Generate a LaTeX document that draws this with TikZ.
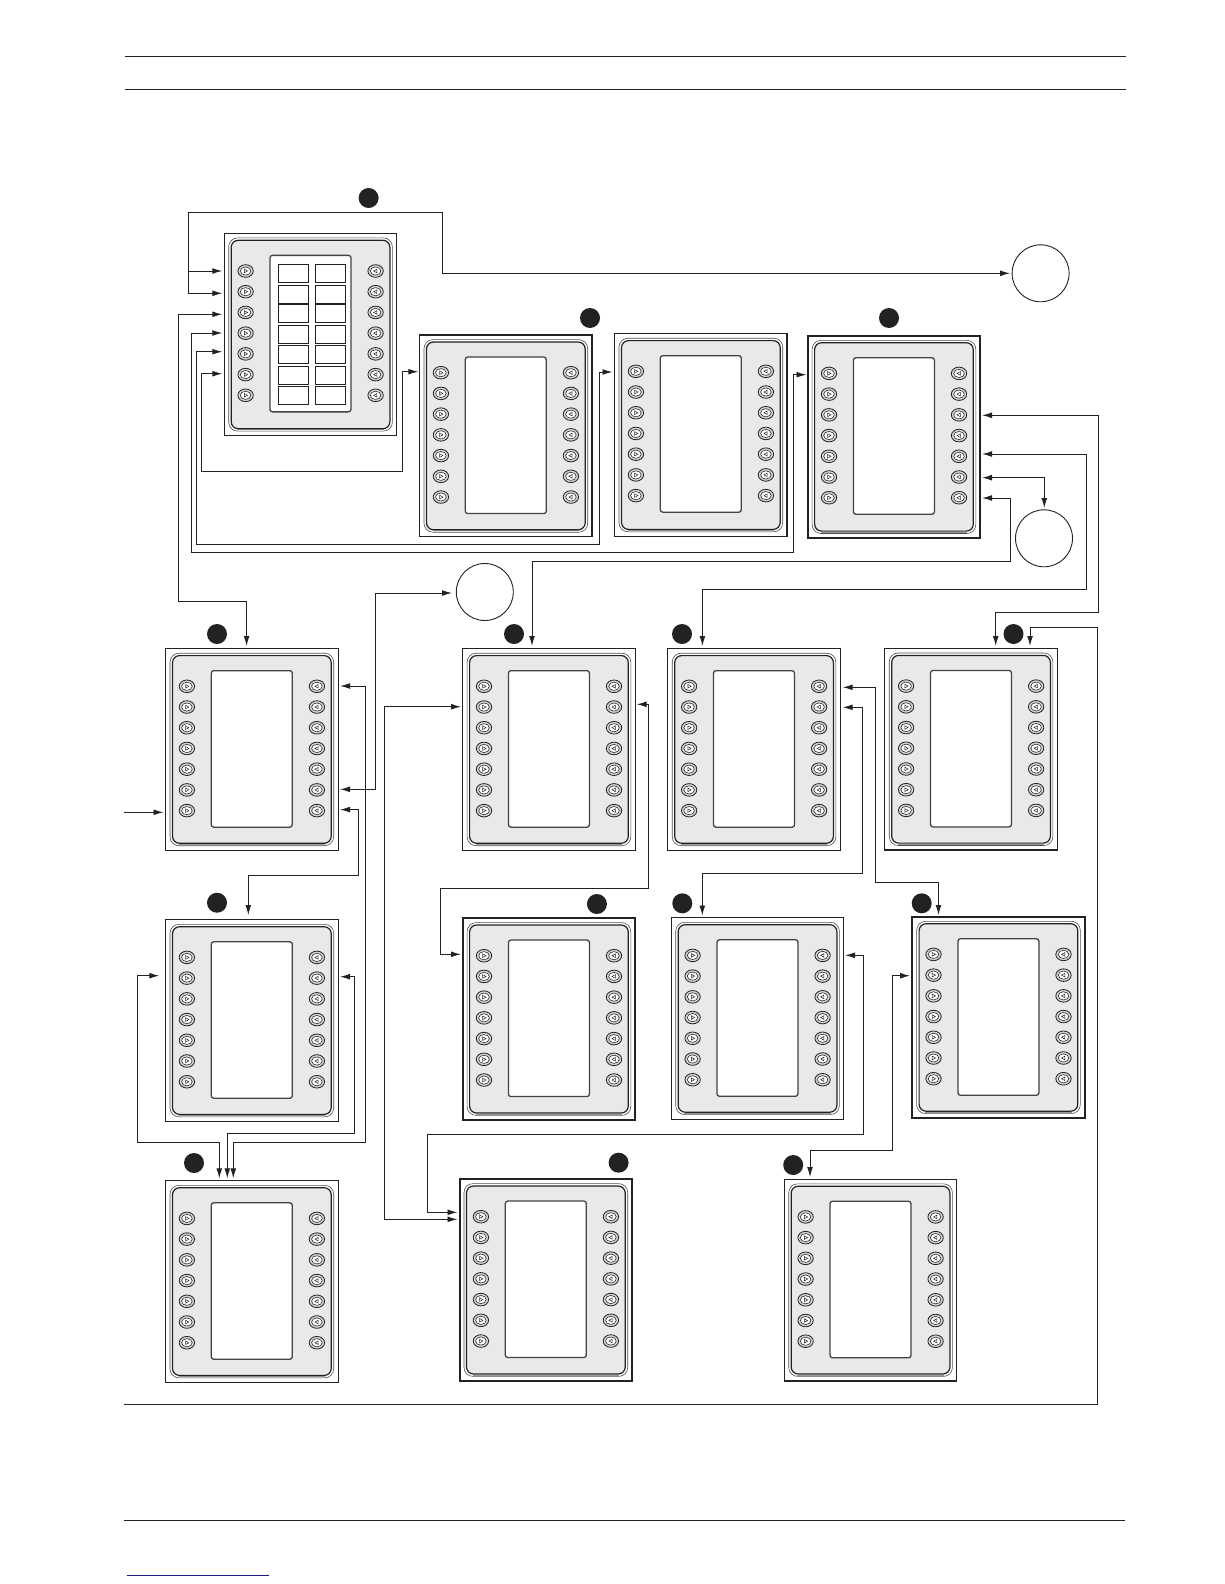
\documentclass[tikz,border=0pt]{standalone}
\usetikzlibrary{arrows.meta,shapes.geometric}
\definecolor{ink}{HTML}{222222}
\definecolor{panelgray}{HTML}{E9E9E9}
\definecolor{linkblue}{HTML}{1A1A8C}
\tikzset{
  conn/.style={draw=ink,line width=0.95pt,line join=miter,>={Latex[length=10pt,width=5.8pt]}},
  rule/.style={draw=ink,line width=1.1pt},
  panelbox/.style={draw=ink,fill=white,minimum width=172.5pt,minimum height=202pt,inner sep=0pt,outer sep=0pt},
  btn/.style={ellipse,draw=ink,line width=0.8pt,fill=panelgray!80!gray,minimum width=15.4pt,minimum height=12.6pt,inner sep=0pt,outer sep=0pt},
  keybox/.style={draw=ink,line width=0.9pt,fill=white,minimum width=30.3pt,minimum height=18pt,inner sep=0pt},
  screenbox/.style={draw=ink!85,fill=white,line width=1.3pt,rounded corners=2.5pt,minimum width=81pt,minimum height=156.5pt,inner sep=0pt},
  badge/.style={circle,fill=ink,minimum size=20pt,inner sep=0pt},
  ring/.style={circle,draw=ink,line width=0.9pt,minimum size=57pt,inner sep=0pt}
}
% name, left, top, border width, height
\newcommand{\panelat}[5]{%
\begin{scope}[shift={(#2,#3)}]
  \node[panelbox,line width=#4pt,minimum height=#5pt] (#1) at (86.25,#5/2) {};
  \draw[draw=ink!80,line width=0.6pt,rounded corners=9pt] (4.4,4.6) rectangle (168.1,#5-4.6);
  \draw[draw=black!40,line width=1pt] (13,#5-5.9) -- (159.5,#5-5.9);
  \draw[draw=ink,fill=panelgray,line width=1.2pt,rounded corners=7pt] (6.9,7) rectangle (165.6,#5-7);
  \node[screenbox] (#1-scr) at (86.2,100.3) {};
  \foreach \i in {1,...,7}{
    \pgfmathsetmacro{\yy}{37.7+20.72*(\i-1)}
    \node[btn] (#1-L\i) at (21.3,\yy) {};
    \node[btn] (#1-R\i) at (151.3,\yy) {};
    \draw[ink,line width=0.55pt,fill=white] (21.3,\yy) ellipse (5.3pt and 4.1pt);
    \draw[ink,line width=0.55pt,fill=white] (151.3,\yy) ellipse (5.3pt and 4.1pt);
    \draw[ink,line width=0.5pt] (20,\yy-1.8) -- (23.3,\yy) -- (20,\yy+1.8) -- cycle;
    \draw[ink,line width=0.5pt] (152.6,\yy-1.8) -- (149.3,\yy) -- (152.6,\yy+1.8) -- cycle;
  }
\end{scope}}
\begin{document}
\begin{tikzpicture}[x=1pt,y=-1pt]
\useasboundingbox (0,0) rectangle (1224,1584);
\fill[white] (0,0) rectangle (1224,1584);

% page rules
\coordinate (ra1) at (125,56.6); \coordinate (ra2) at (1126,56.6);
\coordinate (rb1) at (125,89.6);   \coordinate (rb2) at (1126,89.6);
\coordinate (rc1) at (124,1520.3); \coordinate (rc2) at (1125,1520.3);
\coordinate (rd1) at (126.7,1575.3); \coordinate (rd2) at (269,1575.3);
\draw[rule] (ra1) -- (ra2);
\draw[rule] (rb1) -- (rb2);
\draw[rule] (rc1) -- (rc2);
\draw[draw=linkblue,line width=1.1pt] (rd1) -- (rd2);

% panels
\panelat{A}{224.3}{233.3}{1.1}{202.4}
\panelat{B}{419.6}{335}{1.3}{201.8}
\panelat{C}{614.6}{333.6}{1.7}{202.8}
\panelat{D}{807.7}{335.7}{2.1}{202.4}
\panelat{E}{165.6}{648.6}{1.2}{201.7}
\panelat{F}{462.7}{648.6}{1.3}{201.7}
\panelat{G}{667.8}{648.6}{1.3}{201.7}
\panelat{H}{884.8}{648.4}{1.3}{201.7}
\panelat{I}{165.6}{919.7}{1.2}{201.7}
\panelat{J}{462.7}{918}{2}{202}
\panelat{K}{671.3}{917.7}{1.1}{201.5}
\panelat{L}{912.2}{916.7}{2}{201.5}
\panelat{M}{165.6}{1180.7}{1.2}{201.7}
\panelat{N}{459.6}{1179}{2}{202}
\panelat{O}{784.3}{1179.2}{1.2}{201.8}

% keypad panel A: key grid on top of the screen
\begin{scope}[shift={(224.3,233.3)}]
  \foreach \yy [count=\n] in {40,61,80.6,101.3,121.6,142.3,162.3}{
    \node[keybox] (A-ka\n) at (69.2,\yy) {};
    \node[keybox] (A-kb\n) at (106.2,\yy) {};
  }
\end{scope}

% badges
\node[badge] (b1) at (368.6,198) {};
\node[badge] (b2) at (590,318) {};
\node[badge] (b3) at (889,318) {};
\node[badge] (b4) at (217,634) {};
\node[badge] (b5) at (514,634) {};
\node[badge] (b6) at (682,634) {};
\node[badge] (b7) at (1013.5,634) {};
\node[badge] (b8) at (217,902.7) {};
\node[badge] (b9) at (596.9,904) {};
\node[badge] (b10) at (682.3,903.3) {};
\node[badge] (b11) at (921.7,903.3) {};
\node[badge] (b12) at (194,1163) {};
\node[badge] (b13) at (618.6,1162.7) {};
\node[badge] (b14) at (793.2,1165) {};

% rings
\node[ring] (c1) at (1040.6,273.3) {};
\node[ring] (c2) at (1044,538.3) {};
\node[ring] (c3) at (484.8,592) {};

% connector ends
\coordinate (a1) at (222.3,271);
\coordinate (a2) at (222.3,293.3);
\coordinate (a3) at (222.3,314.3);
\coordinate (a4) at (222.3,333);
\coordinate (a5) at (222.3,351.7);
\coordinate (a6) at (222.3,373.7);
\coordinate (bin) at (418.3,371.7);
\coordinate (cin) at (612.5,372);
\coordinate (din) at (806.5,374.7);
\coordinate (d3) at (982,415.3);
\coordinate (d5) at (982,454);
\coordinate (d6) at (982,477.7);
\coordinate (d7) at (982,498);
\coordinate (e1) at (340,686);
\coordinate (e6) at (340,789.3);
\coordinate (e7) at (340,809.6);
\coordinate (etop) at (246.6,646);
\coordinate (eleft) at (163.5,812.3);
\coordinate (efree) at (124,812.3);
\coordinate (ftop) at (532,646);
\coordinate (gtop) at (702.4,646);
\coordinate (h1top) at (995.7,646);
\coordinate (h2top) at (1030,646);
\coordinate (fl) at (461,706.7);
\coordinate (fr) at (636.7,704.3);
\coordinate (jl) at (461,954.3);
\coordinate (g1) at (842.7,687.3);
\coordinate (g2) at (842.7,707.3);
\coordinate (ltop) at (938.5,915);
\coordinate (ktop) at (702.3,915.5);
\coordinate (kr) at (845,955.3);
\coordinate (ll) at (910,975.7);
\coordinate (itop) at (248.3,915);
\coordinate (il) at (159.3,975.7);
\coordinate (ir) at (340,976.7);
\coordinate (ma) at (219.3,1178.3);
\coordinate (mb) at (227.3,1178.3);
\coordinate (mc) at (233.3,1178.3);
\coordinate (n1) at (457.5,1212.3);
\coordinate (n2) at (457.5,1219.3);
\coordinate (otop) at (810,1177);
\coordinate (bfree) at (124.3,1404.3);
\coordinate (c3in) at (452,593);
\coordinate (c1in) at (1010,273.3);
\coordinate (c2in) at (1044.3,508);

% connectors
\draw[conn,<->] (a2) -- (188.5,293.3) -- (188.5,212.3) -- (442.3,212.3) -- (442.3,273.3) -- (c1in);
\draw[conn,->] (188.5,271) -- (a1);
\draw[conn,<->] (a3) -- (178.4,314.3) -- (178.4,601.7) -- (246.6,601.7) -- (etop);
\draw[conn,<->] (a4) -- (191,333) -- (191,552.7) -- (793.7,552.7) -- (793.7,374.7) -- (din);
\draw[conn,<->] (a5) -- (196,351.7) -- (196,544.3) -- (599.7,544.3) -- (599.7,372) -- (cin);
\draw[conn,<->] (a6) -- (201.5,373.7) -- (201.5,471.3) -- (402.2,471.3) -- (402.2,371.7) -- (bin);
\draw[conn,<->] (d3) -- (1098.3,415.3) -- (1098.3,612.7) -- (995.7,612.7) -- (h1top);
\draw[conn,<->] (d5) -- (1086,454) -- (1086,589.3) -- (702.4,589.3) -- (gtop);
\draw[conn,<->] (d6) -- (1044.3,477.7) -- (c2in);
\draw[conn,<->] (d7) -- (1010,498) -- (1010,561.7) -- (532,561.7) -- (ftop);
\draw[conn,<->] (e1) -- (365.7,686) -- (365.7,1142.3) -- (233.3,1142.3) -- (mc);
\draw[conn,<->] (e6) -- (375,789.3) -- (375,593) -- (c3in);
\draw[conn,<->] (e7) -- (358.5,809.6) -- (358.5,875.3) -- (248.3,875.3) -- (itop);
\draw[conn,->] (efree) -- (eleft);
\draw[conn,<->] (il) -- (137.3,975.7) -- (137.3,1142.3) -- (219.3,1142.3) -- (ma);
\draw[conn,<->] (ir) -- (354.3,976.7) -- (354.3,1133.3) -- (227.3,1133.3) -- (mb);
\draw[conn,<->] (fl) -- (384.5,706.7) -- (384.5,1219.3) -- (n2);
\draw[conn,<->] (fr) -- (648.3,704.3) -- (648.3,888.3) -- (440.3,888.3) -- (440.3,954.3) -- (jl);
\draw[conn,<->] (g1) -- (875,687.3) -- (875,882.7) -- (938.5,882.7) -- (ltop);
\draw[conn,<->] (g2) -- (862,707.3) -- (862,873.3) -- (702.3,873.3) -- (ktop);
\draw[conn,<->] (kr) -- (863.5,955.3) -- (863.5,1134) -- (427.5,1134) -- (427.5,1212.3) -- (n1);
\draw[conn,<->] (ll) -- (892.6,975.7) -- (892.6,1150.7) -- (810,1150.7) -- (otop);
\draw[conn,->] (bfree) -- (1097.5,1404.3) -- (1097.5,627.7) -- (1030,627.7) -- (h2top);
\end{tikzpicture}
\end{document}
